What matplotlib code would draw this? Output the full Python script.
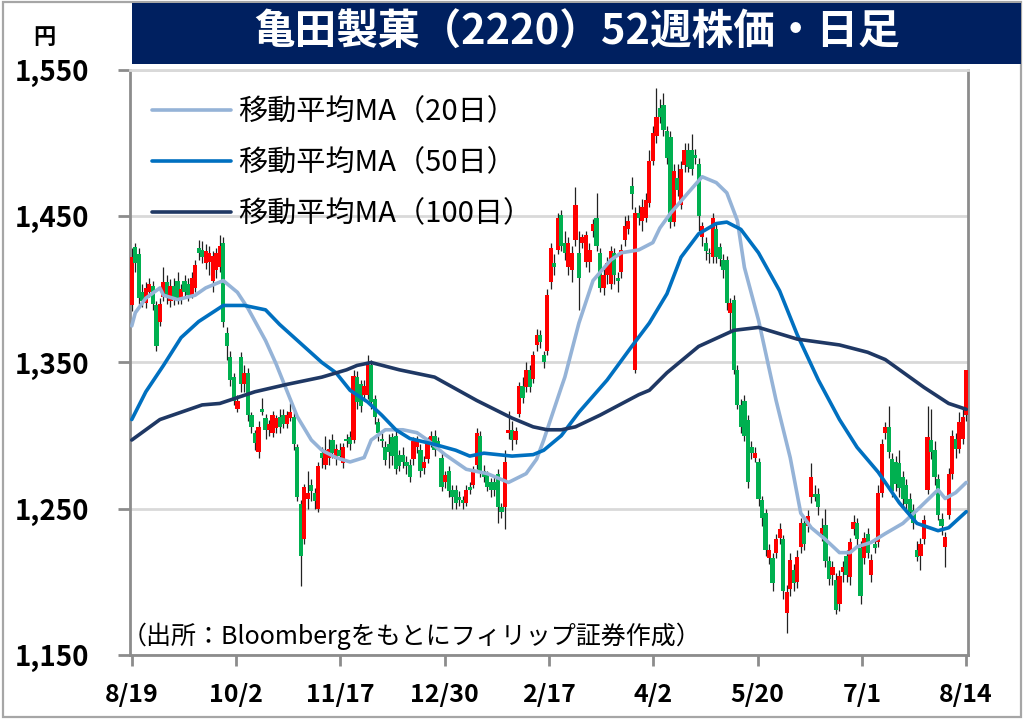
import matplotlib
matplotlib.use('Agg')
import matplotlib.pyplot as plt
from matplotlib.patches import Rectangle
import numpy as np

plt.rcParams['font.family'] = ['Noto Sans CJK JP', 'DejaVu Sans']

# ---------------- data ----------------
opens = [1389,1429,1424,1398,1391,1398,1402,1389,1378,1395,1405,1392,1402,1406,1393,1406,1404,1396,1401,1428,
         1427,1418,1419,1406,1413,1415,1432,1370,1354,1340,1318,1354,1335,1343,1314,1302,1289,1318,1312,1304,
         1302,1305,1313,1314,1308,1312,1313,1292,1253,1229,1257,1266,1261,1250,1288,1280,1285,1297,1284,1290,
         1281,1298,1299,1297,1340,1335,1328,1328,1348,1325,1309,1298,1292,1294,1299,1300,1287,1287,1282,1280,
         1284,1292,1290,1278,1284,1295,1300,1296,1285,1268,1276,1263,1263,1258,1256,1254,1265,1266,1280,1300,
         1276,1273,1268,1268,1274,1251,1251,1302,1304,1297,1315,1334,1333,1345,1339,1362,1369,1355,1358,1405,
         1418,1427,1451,1432,1415,1413,1434,1425,1432,1419,1419,1440,1449,1425,1401,1410,1404,1425,1408,1412,
         1434,1441,1471,1345,1452,1447,1449,1459,1488,1505,1524,1526,1508,1504,1446,1476,1458,1485,1495,1495,
         1492,1486,1436,1432,1425,1422,1441,1429,1420,1420,1384,1393,1345,1321,1324,1311,1292,1285,1282,1256,
         1247,1216,1216,1220,1230,1229,1179,1195,1208,1200,1224,1240,1238,1258,1260,1260,1233,1239,1214,1205,
         1201,1185,1207,1218,1203,1236,1240,1223,1216,1233,1205,1226,1227,1261,1302,1306,1284,1282,1281,1272,
         1266,1257,1249,1222,1218,1229,1263,1297,1290,1270,1243,1224,1246,1274,1298,1291,1298,1314]
highs = [1428,1432,1428,1404,1405,1408,1406,1392,1394,1415,1410,1407,1408,1412,1404,1410,1408,1412,1420,1434,
         1433,1431,1430,1426,1428,1437,1436,1374,1358,1343,1328,1357,1348,1346,1316,1304,1310,1326,1315,1311,
         1317,1314,1318,1318,1317,1322,1316,1294,1256,1267,1276,1270,1264,1282,1292,1300,1298,1301,1294,1295,
         1295,1301,1303,1345,1344,1338,1338,1355,1352,1328,1312,1302,1296,1301,1302,1303,1290,1292,1286,1284,
         1299,1300,1294,1286,1299,1303,1304,1299,1288,1276,1279,1266,1266,1262,1259,1266,1268,1279,1305,1303,
         1280,1276,1271,1272,1277,1254,1290,1317,1310,1306,1337,1340,1350,1348,1358,1373,1372,1358,1400,1432,
         1424,1452,1454,1440,1436,1430,1470,1440,1438,1440,1432,1448,1466,1428,1414,1422,1430,1428,1412,1431,
         1450,1451,1477,1456,1458,1462,1466,1495,1512,1538,1530,1534,1512,1508,1486,1486,1488,1500,1500,1506,
         1496,1490,1446,1436,1428,1452,1446,1432,1424,1423,1394,1396,1348,1325,1328,1314,1296,1292,1285,1259,
         1250,1226,1220,1233,1240,1232,1198,1220,1212,1222,1244,1244,1249,1281,1266,1264,1244,1250,1218,1214,
         1206,1208,1214,1222,1230,1246,1244,1228,1234,1237,1219,1230,1266,1298,1309,1320,1288,1286,1290,1276,
         1270,1261,1253,1228,1230,1246,1320,1318,1296,1274,1247,1234,1278,1304,1302,1316,1318,1345]
lows = [1385,1412,1390,1388,1387,1395,1386,1358,1375,1392,1390,1388,1389,1390,1390,1394,1392,1394,1398,1420,
        1418,1414,1410,1398,1408,1412,1374,1352,1334,1321,1316,1330,1330,1310,1302,1290,1285,1314,1298,1300,
        1299,1302,1302,1305,1305,1310,1290,1255,1197,1226,1250,1255,1250,1248,1278,1277,1280,1285,1280,1283,
        1278,1292,1290,1295,1318,1316,1324,1325,1318,1308,1296,1292,1280,1278,1280,1274,1276,1278,1274,1268,
        1280,1288,1272,1274,1281,1292,1286,1290,1262,1264,1258,1250,1250,1252,1250,1252,1260,1264,1277,1272,
        1268,1262,1258,1259,1240,1244,1236,1298,1290,1294,1313,1322,1330,1330,1336,1358,1360,1346,1355,1400,
        1410,1424,1426,1420,1410,1405,1430,1386,1428,1415,1412,1436,1426,1398,1396,1404,1400,1404,1398,1408,
        1430,1438,1455,1343,1444,1440,1446,1456,1485,1500,1514,1505,1486,1442,1443,1464,1455,1480,1480,1478,
        1486,1440,1430,1420,1418,1418,1418,1416,1408,1386,1372,1342,1318,1302,1296,1264,1284,1282,1252,1238,
        1218,1212,1194,1216,1226,1188,1165,1190,1194,1196,1220,1222,1234,1254,1255,1246,1228,1210,1198,1198,
        1178,1180,1200,1200,1198,1232,1224,1185,1212,1216,1200,1220,1224,1258,1298,1285,1258,1262,1258,1252,
        1248,1244,1236,1214,1208,1226,1260,1284,1266,1242,1232,1210,1243,1270,1285,1288,1294,1310]
closes = [1422,1418,1394,1392,1401,1404,1390,1361,1390,1405,1395,1402,1393,1393,1400,1398,1396,1408,1417,1425,
          1422,1426,1425,1423,1425,1430,1378,1361,1338,1324,1324,1335,1343,1314,1306,1295,1306,1316,1304,1308,
          1314,1312,1306,1308,1314,1316,1294,1258,1218,1265,1261,1262,1255,1279,1285,1290,1291,1288,1291,1286,
          1292,1296,1294,1341,1323,1320,1334,1348,1323,1313,1302,1296,1283,1289,1286,1277,1279,1282,1279,1272,
          1296,1297,1276,1282,1296,1300,1290,1294,1265,1273,1262,1258,1254,1256,1254,1263,1263,1276,1302,1276,
          1272,1265,1263,1263,1251,1248,1282,1304,1297,1303,1334,1326,1345,1333,1355,1369,1364,1350,1396,1428,
          1415,1449,1430,1425,1432,1425,1458,1408,1436,1437,1427,1445,1430,1401,1410,1418,1426,1410,1406,1427,
          1443,1447,1465,1452,1449,1456,1461,1488,1507,1518,1518,1509,1490,1446,1481,1468,1482,1495,1484,1482,
          1490,1450,1443,1426,1424,1449,1422,1421,1413,1391,1391,1345,1321,1306,1300,1268,1288,1288,1257,1244,
          1222,1222,1199,1229,1236,1194,1193,1215,1199,1217,1240,1226,1245,1272,1258,1251,1237,1214,1202,1210,
          1181,1204,1210,1205,1227,1241,1229,1190,1230,1220,1215,1223,1261,1294,1306,1289,1262,1267,1264,1257,
          1253,1248,1240,1217,1226,1242,1299,1289,1272,1246,1238,1231,1274,1300,1291,1309,1313,1345]

tick_labels = ['8/19', '10/2', '11/17', '12/30', '2/17', '4/2', '5/20', '7/1', '8/14']
y_ticks = [1150, 1250, 1350, 1450, 1550]

ma20_day = [0, 1, 4, 8, 9, 13, 18, 21, 26, 30, 33, 38, 41, 44, 47, 51, 54, 58, 62, 66, 68, 72, 77, 81, 84, 89,
            95, 101, 107, 112, 115, 117, 122, 123, 127, 131, 136, 139, 144, 148, 150, 153, 158, 162, 166, 169,
            172, 174, 178, 183, 187, 190, 193, 197, 201, 204, 206, 210, 214, 219, 223, 226, 229, 231, 234, 237]
ma20_val = [1375, 1384, 1394, 1401, 1396, 1393, 1396, 1401, 1406, 1398, 1387, 1365, 1349, 1331, 1313, 1297,
            1290, 1285, 1282, 1285, 1297, 1304, 1304, 1302, 1297, 1287, 1277, 1274, 1268, 1274, 1284, 1297,
            1333, 1340, 1377, 1406, 1420, 1425, 1427, 1432, 1442, 1452, 1466, 1477, 1473, 1466, 1447, 1415,
            1379, 1324, 1285, 1247, 1237, 1229, 1220, 1220, 1224, 1227, 1233, 1240, 1249, 1256, 1263, 1257,
            1261, 1268]

ma50_day = [0, 4, 9, 14, 19, 26, 32, 38, 42, 48, 54, 58, 62, 67, 71, 75, 79, 86, 92, 96, 100, 108, 114,
            117, 122, 127, 131, 135, 142, 147, 152, 156, 161, 166, 169, 173, 178, 184, 189, 195, 201, 206, 212,
            218, 223, 229, 232, 237]
ma50_val = [1311, 1330, 1348, 1367, 1378, 1389, 1389, 1386, 1376, 1363, 1350, 1343, 1331, 1323, 1314, 1304,
            1298, 1294, 1290, 1286, 1288, 1286, 1287, 1290, 1300, 1316, 1327, 1338, 1361, 1377, 1397, 1422,
            1438, 1445, 1446, 1441, 1425, 1399, 1369, 1338, 1311, 1292, 1275, 1254, 1240, 1235, 1237, 1248]

ma100_day = [0, 8, 20, 25, 35, 44, 54, 61, 64, 68, 76, 86, 89, 98, 108, 114, 118, 122, 126, 133, 144, 147,
             152, 161, 171, 178, 189, 201, 209, 214, 225, 232, 237]
ma100_val = [1297, 1311, 1321, 1322, 1330, 1335, 1340, 1345, 1348, 1350, 1345, 1340, 1336, 1324, 1312,
             1306, 1304, 1304, 1306, 1314, 1328, 1331, 1343, 1361, 1372, 1374, 1366, 1362, 1357, 1352, 1333,
             1322, 1318]

# ---------------- figure ----------------
W, H = 1024, 721
fig = plt.figure(figsize=(W / 100, H / 100), dpi=100)


def fx(px):
    return px / W


def fy(py):
    return 1 - py / H


# outer frame
fig.patches.append(Rectangle((fx(3), fy(717)), fx(1021) - fx(3), fy(2) - fy(717),
                             transform=fig.transFigure, fill=False, edgecolor='#A6A6A6', lw=1.6))
# title banner
fig.patches.append(Rectangle((fx(132), fy(64)), fx(1021) - fx(132), fy(3) - fy(64),
                             transform=fig.transFigure, facecolor='#002060', edgecolor='none'))
fig.text(fx(577), fy(33), '亀田製菓（2220）52週株価・日足', color='white', fontsize=30,
         fontweight='bold', ha='center', va='center')
fig.text(fx(44), fy(37), '円', fontsize=16, fontweight='bold', ha='center', va='center')

ax = fig.add_axes([fx(130), fy(655), fx(968) - fx(130), fy(70) - fy(655)])

n = len(closes)
xs = np.arange(n)
o = np.array(opens, dtype=float)
c = np.array(closes, dtype=float)
bottoms = np.minimum(o, c)
heights = np.maximum(np.abs(c - o), 1.2)
colors = ['#FF0000' if cc >= oo else '#00B050' for oo, cc in zip(o, c)]

ax.vlines(xs, lows, highs, color='#222222', lw=0.9, zorder=2)
ax.bar(xs, heights, bottom=bottoms, width=1.2, color=colors, linewidth=0, zorder=3)

line_kw = dict(lw=2.6, zorder=4, solid_joinstyle='round', solid_capstyle='round')
ax.plot(ma20_day, ma20_val, color='#95B3D7', label='移動平均MA（20日）', **line_kw)
ax.plot(ma50_day, ma50_val, color='#0070C0', label='移動平均MA（50日）', **line_kw)
ax.plot(ma100_day, ma100_val, color='#1F3864', label='移動平均MA（100日）', **line_kw)

ax.set_ylim(1150, 1550)
ax.set_yticks(y_ticks)
ax.set_yticklabels([f'{v:,}' for v in y_ticks], fontsize=20, fontweight='bold')
ax.set_xlim(-0.5, n - 0.5)
ax.set_xticks(np.linspace(0, n - 1, len(tick_labels)))
ax.set_xticklabels(tick_labels, fontsize=18, fontweight='bold')

ax.yaxis.grid(True, color='#D9D9D9', lw=2)
ax.set_axisbelow(True)
for side in ['left', 'bottom', 'right']:
    ax.spines[side].set_color('#8C8C8C')
    ax.spines[side].set_linewidth(2)
ax.spines['top'].set_color('#D9D9D9')
ax.spines['top'].set_linewidth(2)
ax.tick_params(axis='y', direction='out', length=9, width=2, color='#8C8C8C', pad=20)
ax.tick_params(axis='x', direction='out', length=8, width=2, color='#8C8C8C', pad=12)

leg = ax.legend(loc='upper left', bbox_to_anchor=(fx(152), fy(97)), bbox_transform=fig.transFigure,
                frameon=False, fontsize=21, handlelength=2.7, handletextpad=0.25, labelspacing=0.72,
                borderaxespad=0, borderpad=0)

fig.text(fx(122), fy(636), '（出所：Bloombergをもとにフィリップ証券作成）', fontsize=18,
         ha='left', va='center')

fig.savefig('out.png', dpi=100)
